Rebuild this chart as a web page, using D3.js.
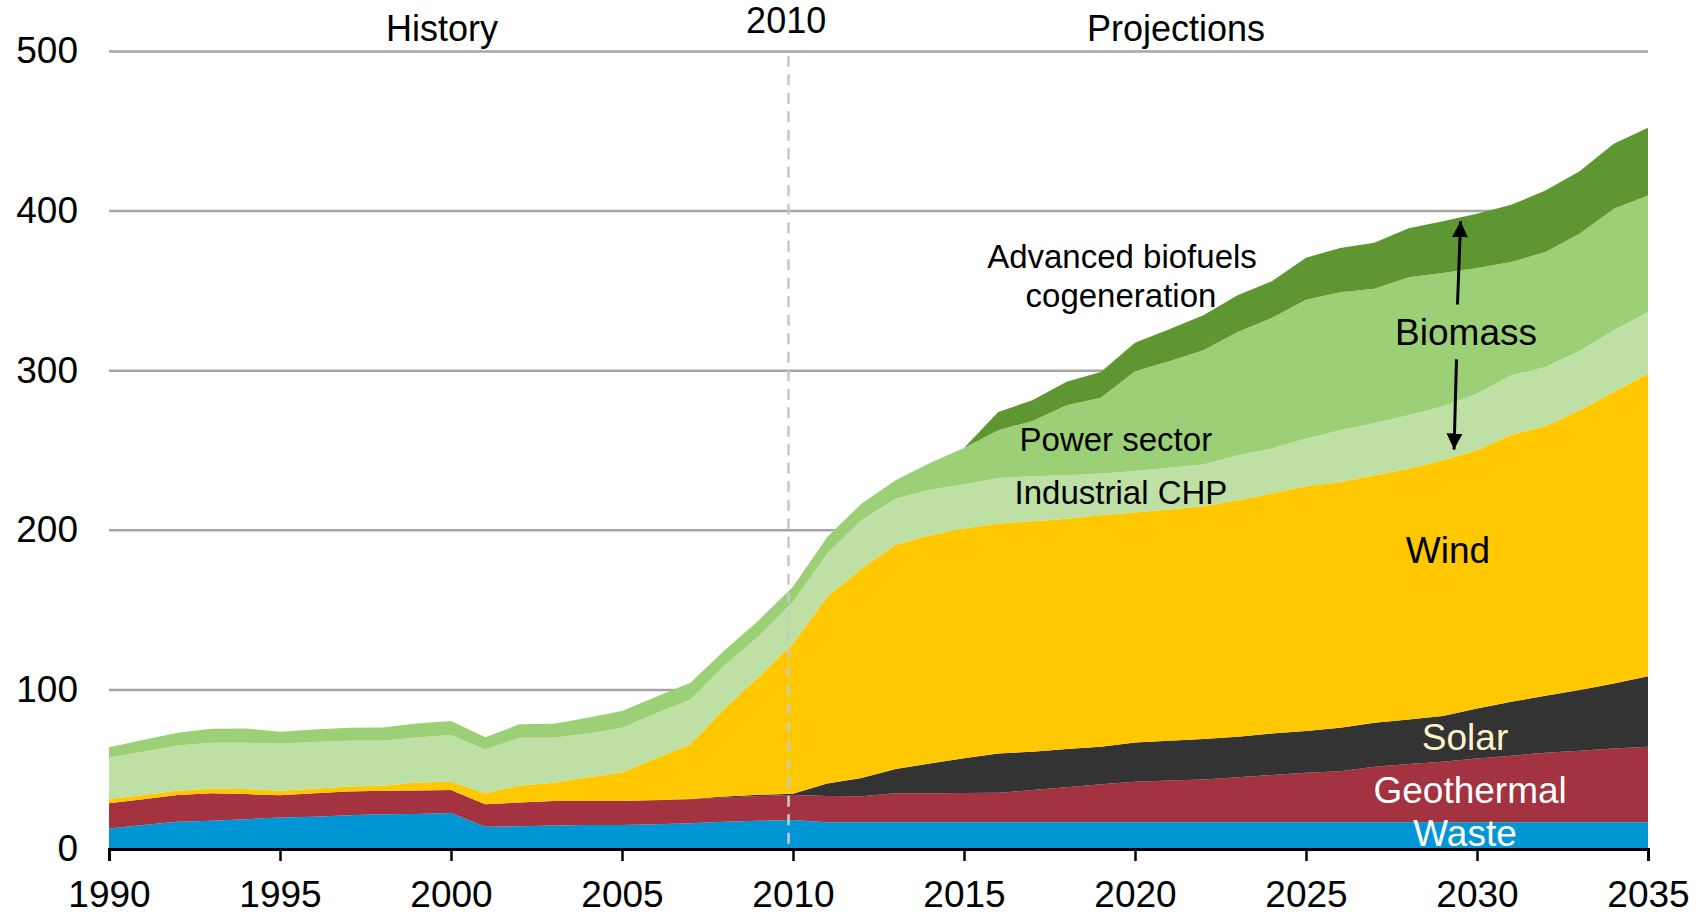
<!DOCTYPE html>
<html>
<head>
<meta charset="utf-8">
<script src="https://cdn.jsdelivr.net/npm/d3@7"></script>
<style>
  html, body { margin: 0; padding: 0; background: #fff; }
  svg { display: block; font-family: "Liberation Sans", Arial, sans-serif; }
</style>
</head>
<body>
<svg id="chart" width="1706" height="914"></svg>
<script>
// ---- Data ----
const years = d3.range(1990, 2036);

const waste = [12.9,15.0,17.1,17.7,18.6,19.8,20.2,21.1,21.7,21.9,22.5,14.0,14.2,14.8,15.0,15.0,15.5,16.1,17.0,17.7,18.2,16.8,16.8,16.8,16.8,16.8,16.8,16.8,16.8,16.8,16.8,16.8,16.8,16.8,16.8,16.8,16.8,16.8,16.8,16.8,16.8,16.8,16.8,16.8,16.8,16.8];
const geothermal = [15.7,16.1,16.7,17.2,15.8,13.8,14.7,15.0,14.8,14.8,14.4,14.0,15.0,15.2,15.0,15.0,15.0,15.0,15.3,15.5,15.6,16.4,16.2,18.1,18.2,18.3,18.4,20.1,21.9,23.7,25.4,26.1,26.8,28.2,29.6,31.0,31.9,34.7,36.4,37.9,39.9,41.7,43.5,44.8,46.1,47.3];
const solar = [0,0,0,0,0,0,0,0,0,0,0,0,0,0,0.1,0.1,0.2,0.3,0.6,0.8,0.8,7.8,11.5,15.2,18.6,21.7,24.7,24.1,23.9,23.6,24.6,24.9,25.3,25.3,26.0,26.1,27.3,27.6,28.0,28.6,31.4,33.7,35.7,38.0,40.8,44.2];
const wind = [2.7,2.7,2.7,2.9,3.2,2.9,2.9,3.1,3.1,5.0,5.2,6.9,10.5,11.5,14.8,17.9,26.1,34.3,55.2,73.9,94.2,117.0,131.3,140.6,143.0,144.0,144.0,144.4,144.4,145.0,144.0,144.9,145.9,148.2,150.3,153.4,154.0,155.1,157.1,160.3,161.7,167.4,168.9,175.3,182.6,189.6];
const industrialCHP = [25.9,27.1,28.4,28.8,29.0,29.4,29.2,28.6,28.2,28.2,29.3,27.5,30.0,28.2,27.5,28.0,28.2,28.0,27.1,25.5,26.1,27.0,30.2,28.8,28.5,27.7,28.6,28.2,27.2,26.1,26.1,26.2,26.1,28.2,28.2,29.9,32.4,32.7,33.5,33.8,35.5,37.2,37.1,37.1,38.7,38.5];
const powerSector = [6.5,7.4,7.9,8.7,8.9,7.6,7.9,8.2,8.4,8.8,8.8,7.6,8.4,8.8,9.8,10.4,10.4,10.4,9.4,10.0,9.4,10.5,10.4,11.5,16.8,22.8,29.9,34.6,43.8,47.6,62.4,66.7,71.6,77.2,81.8,87.0,86.5,84.1,86.5,83.5,78.7,71.0,72.0,73.5,76.1,73.1];
const advancedBiofuels = [0,0,0,0,0,0,0,0,0,0,0,0,0,0,0,0,0,0,0,0,0,0,0,0,0,0,11.4,13.0,14.7,16.1,17.9,20.0,21.9,23.0,23.0,26.3,27.7,28.9,30.7,32.5,34.0,35.8,38.6,39.2,40.8,42.4];

const seriesNames = ["Waste","Geothermal","Solar","Wind","Industrial CHP","Power sector","Advanced biofuels cogeneration"];
const seriesColors = ["#0096D6","#A33340","#333333","#FFC800","#BEE0A4","#9BD076","#5E9732"];
const xTicks = [1990,1995,2000,2005,2010,2015,2020,2025,2030,2035];
const yTicks = [0,100,200,300,400,500];

// ---- Build table ----
const seriesArrays = [waste, geothermal, solar, wind, industrialCHP, powerSector, advancedBiofuels];
const table = years.map((yr, i) => {
  const row = { year: yr };
  seriesNames.forEach((n, k) => row[n] = seriesArrays[k][i]);
  return row;
});

const svg = d3.select("#chart");
const x = d3.scaleLinear().domain([1990, 2035]).range([109, 1648]);
const y = d3.scaleLinear().domain([0, 500]).range([849, 51]);

// gridlines
svg.append("g")
  .attr("transform", `translate(${x(1990)},0)`)
  .call(d3.axisLeft(y).tickValues(yTicks.filter(d => d > 0)).tickSize(-(x(2035) - x(1990))).tickFormat(""))
  .call(g => g.select(".domain").remove())
  .call(g => g.selectAll("line").attr("stroke", "#a6a6a6").attr("stroke-width", 2.5));

// stacked areas
const stack = d3.stack().keys(seriesNames);
const layers = stack(table);
const area = d3.area()
  .x(d => x(d.data.year))
  .y0(d => y(d[0]))
  .y1(d => y(d[1]));

svg.append("g").selectAll("path")
  .data(layers)
  .join("path")
  .attr("d", area)
  .attr("fill", (d, i) => seriesColors[i]);

// 2010 dashed divider
svg.append("line")
  .attr("x1", x(2009.87)).attr("x2", x(2009.87))
  .attr("y1", y(497)).attr("y2", y(0))
  .attr("stroke", "#c8c8c8").attr("stroke-width", 2.6)
  .attr("stroke-dasharray", "11,7.5");

// x axis
svg.append("g")
  .attr("transform", `translate(0,${y(0)})`)
  .call(d3.axisBottom(x).tickValues(xTicks).tickSize(12).tickPadding(20).tickFormat(d3.format("d")))
  .call(g => g.select(".domain").attr("stroke", "#000").attr("stroke-width", 3))
  .call(g => g.selectAll(".tick line").attr("stroke", "#000").attr("stroke-width", 2.5))
  .call(g => g.selectAll("text").attr("font-size", 37).attr("fill", "#000")
    .attr("font-family", '"Liberation Sans", Arial, sans-serif'));

// y axis labels
svg.append("g")
  .attr("transform", `translate(${x(1990)},0)`)
  .call(d3.axisLeft(y).tickValues(yTicks).tickSize(0).tickPadding(31))
  .call(g => g.select(".domain").remove())
  .call(g => g.selectAll("text").attr("font-size", 37).attr("fill", "#000")
    .attr("font-family", '"Liberation Sans", Arial, sans-serif'));

// header labels
const headers = [
  { t: "History", yr: 1999.74, v: 514.4 },
  { t: "2010", yr: 2009.8, v: 518.8 },
  { t: "Projections", yr: 2021.2, v: 514.4 }
];
svg.append("g").selectAll("text").data(headers).join("text")
  .attr("x", d => x(d.yr)).attr("y", d => y(d.v))
  .attr("text-anchor", "middle").attr("dominant-baseline", "central")
  .attr("font-size", 36).attr("fill", "#000")
  .text(d => d.t);

// series labels
const labels = [
  { t: "Advanced biofuels", yr: 2019.62, v: 371, size: 33, c: "#000" },
  { t: "cogeneration", yr: 2019.59, v: 347, size: 33, c: "#000" },
  { t: "Biomass", yr: 2029.68, v: 323.7, size: 37, c: "#000" },
  { t: "Power sector", yr: 2019.44, v: 256.6, size: 33, c: "#000" },
  { t: "Industrial CHP", yr: 2019.59, v: 223.3, size: 33, c: "#000" },
  { t: "Wind", yr: 2029.15, v: 187, size: 37, c: "#000" },
  { t: "Solar", yr: 2029.65, v: 69.6, size: 37, c: "#FFF2CC" },
  { t: "Geothermal", yr: 2029.8, v: 36.4, size: 37, c: "#fff" },
  { t: "Waste", yr: 2029.65, v: 9.4, size: 37, c: "#fff" }
];
svg.append("g").selectAll("text").data(labels).join("text")
  .attr("x", d => x(d.yr)).attr("y", d => y(d.v))
  .attr("text-anchor", "middle").attr("dominant-baseline", "central")
  .attr("font-size", d => d.size).attr("fill", d => d.c)
  .text(d => d.t);

// arrows
const defs = svg.append("defs");
defs.append("marker")
  .attr("id", "ah").attr("viewBox", "0 0 10 10")
  .attr("refX", 10).attr("refY", 5)
  .attr("markerWidth", 16).attr("markerHeight", 16)
  .attr("markerUnits", "userSpaceOnUse")
  .attr("orient", "auto")
  .append("path").attr("d", "M0,0 L10,5 L0,10 Z").attr("fill", "#000");

const arrows = [
  { yr1: 2029.43, v1: 341.2, yr2: 2029.52, v2: 393.3 },
  { yr1: 2029.40, v1: 306.8, yr2: 2029.33, v2: 250.3 }
];
svg.append("g").selectAll("line").data(arrows).join("line")
  .attr("x1", d => x(d.yr1)).attr("y1", d => y(d.v1))
  .attr("x2", d => x(d.yr2)).attr("y2", d => y(d.v2))
  .attr("stroke", "#000").attr("stroke-width", 3)
  .attr("marker-end", "url(#ah)");
</script>
</body>
</html>
